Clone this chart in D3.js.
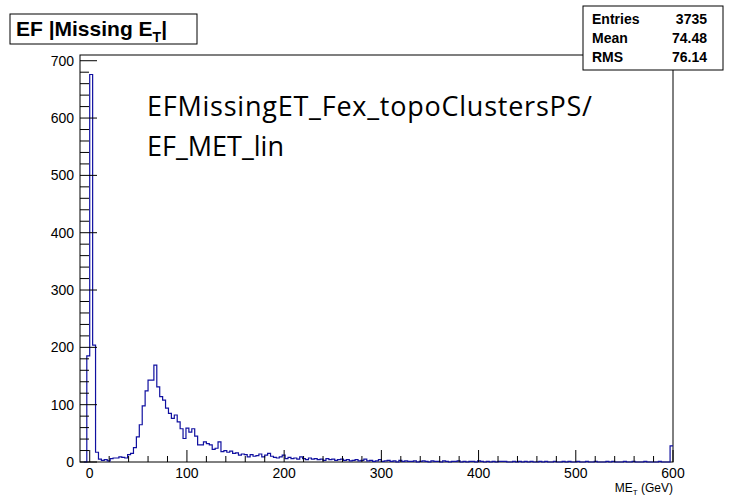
<!DOCTYPE html>
<html><head><meta charset="utf-8">
<script src="https://cdn.jsdelivr.net/npm/d3@7"></script>
<style>body{margin:0;background:#fff}</style>
</head><body><svg width="729" height="496"></svg>
<script>
// histogram bins, 3 GeV wide, first bin starts at -6 GeV
var binStart = -6, binWidth = 3;
var headCounts = [0,185,676,204,17,5,3,4,2,6,7,7,9,8,7,13,15,25,44,65,98,124,143,143,169,131,114,108,94,85,76,82,70,58,41,59,52,58,45,30,30,35,32,30,22,24,35,18,20,17,19,15,16,12,14,13,9,13,10,11,14,9,12,15,10,8,7,9,12,6];
var tailCounts = [8,6,7,5,9,6,4,7,5,6,4,5,3,6,4,5,3,4,5,3,
 4,2,3,4,2,3,5,2,3,1, 2,4,1,2,3,1,2,0,3,1, 2,1,1,2,0,1,2,1,0,2,
 1,1,0,2,1,0,1,1,2,0, 1,0,1,1,0,2,1,0,1,0, 1,0,1,1,1,0,0,1,0,1,
 0,1,0,1,0,0,1,0,1,0, 0,1,0,0,1,0,1,0,0,1, 0,0,1,0,0,1,0,0,0,1,
 0,1,0,0,0,1,0,0,1,0, 0,0,1,0,0,0,0,1,0,0, 0,28];
var counts = headCounts.concat(tailCounts);
var xTicks = [0,100,200,300,400,500,600];
var yTicks = [0,100,200,300,400,500,600,700];
var statNames = ["Entries","Mean","RMS"];
var statValues = ["3735","74.48","76.14"];

var svg = d3.select("svg");
var pLeft = 80, pRight = 673, pTop = 55, pBottom = 462;
var x = d3.scaleLinear().domain([-10, 600]).range([pLeft, pRight]);
var y = d3.scaleLinear().domain([0, 710]).range([pBottom, pTop]);
var blue = "#1010a0";
var font = "Liberation Sans, Arial";

// frame
svg.append("rect").attr("x", pLeft).attr("y", pTop).attr("width", pRight-pLeft).attr("height", pBottom-pTop)
  .attr("fill", "none").attr("stroke", "#000");

// step histogram
var pts = [];
counts.forEach(function(c, i) {
  var x0 = binStart + i*binWidth;
  pts.push([x(x0), y(c)], [x(x0+binWidth), y(c)]);
});
svg.append("path").attr("d", d3.line()(pts)).attr("fill", "none").attr("stroke", blue).attr("stroke-width", 1.2);

// y ticks
d3.range(0, 701, 20).forEach(function(v) {
  var major = v % 100 === 0;
  svg.append("line").attr("x1", pLeft).attr("x2", pLeft + (major ? 17 : 9))
    .attr("y1", y(v)).attr("y2", y(v)).attr("stroke", "#000");
});
svg.selectAll(".yl").data(yTicks).enter().append("text")
  .attr("x", pLeft-6).attr("y", function(d){return y(d)+5;}).attr("text-anchor","end")
  .attr("font-family",font).attr("font-size",14).text(function(d){return d;});

// x ticks
d3.range(0, 601, 20).forEach(function(v) {
  var major = v % 100 === 0;
  svg.append("line").attr("y1", pBottom).attr("y2", pBottom - (major ? 12 : 6))
    .attr("x1", x(v)).attr("x2", x(v)).attr("stroke", "#000");
});
svg.selectAll(".xl").data(xTicks).enter().append("text")
  .attr("x", function(d){return x(d);}).attr("y", pBottom+16).attr("text-anchor","middle")
  .attr("font-family",font).attr("font-size",14).text(function(d){return d;});

// x axis title
var xt = svg.append("text").attr("x", 673).attr("y", 492).attr("text-anchor","end")
  .attr("font-family",font).attr("font-size",12);
xt.append("tspan").text("ME");
xt.append("tspan").attr("font-size",8).attr("dy",3).text("T");
xt.append("tspan").attr("dy",-3).text(" (GeV)");

// title box
svg.append("rect").attr("x",10).attr("y",14).attr("width",187).attr("height",30)
  .attr("fill","#fff").attr("stroke","#000");
var tt = svg.append("text").attr("x",16).attr("y",36).attr("font-family",font)
  .attr("font-weight","bold").attr("font-size",21);
tt.append("tspan").text("EF |Missing E");
tt.append("tspan").attr("font-size",14).attr("dy",6).text("T");
tt.append("tspan").attr("dy",-6).text("|");

// stats box
svg.append("rect").attr("x",583).attr("y",6).attr("width",140).attr("height",64)
  .attr("fill","#fff").attr("stroke","#000");
statNames.forEach(function(n, i) {
  svg.append("text").attr("x",592).attr("y",24+i*19).attr("font-family",font)
    .attr("font-weight","bold").attr("font-size",14).text(n);
  svg.append("text").attr("x",707).attr("y",24+i*19).attr("text-anchor","end").attr("font-family",font)
    .attr("font-weight","bold").attr("font-size",14).text(statValues[i]);
});

// annotation
["EFMissingET_Fex_topoClustersPS/","EF_MET_lin"].forEach(function(s, i) {
  svg.append("text").attr("x",147).attr("y",116+i*40).attr("font-family","Open Sans, sans-serif")
    .attr("font-size",27).attr("textLength", i === 0 ? 445 : null).text(s);
});
</script></body></html>
